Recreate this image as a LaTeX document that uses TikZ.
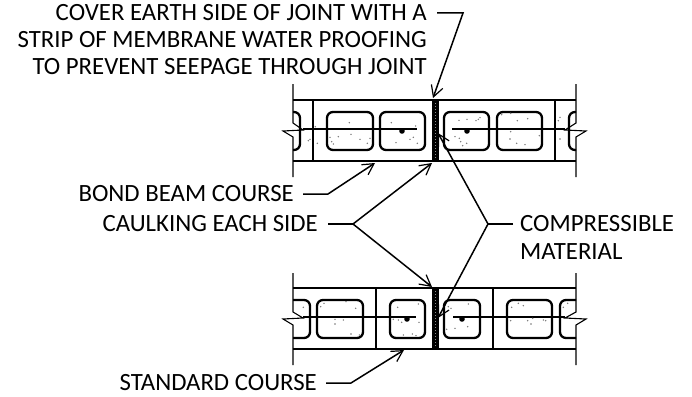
\documentclass[tikz,border=0pt]{standalone}
\usepackage{fontspec}
\setmainfont{Carlito}
\usetikzlibrary{arrows.meta}
\tikzset{
  label/.style={inner sep=0pt,font=\fontsize{24.8}{24.8}\selectfont},
  leader/.style={line width=1.5pt},
  tip/.style={line width=1.5pt,-{Straight Barb[length=11pt,width=12pt,line width=1.2pt]}},
  wall/.style={line width=2.2pt},
  hole/.style={line width=2.3pt,rounded corners=6pt},
  thin/.style={line width=1.1pt},
  speck/.style={fill=black!55,draw=none}
}
\begin{document}
\begin{tikzpicture}[x=1pt,y=-1pt]
\useasboundingbox (0,0) rectangle (692,396);

% text
\node (t0) at (427,13) [label,anchor=east] {COVER EARTH SIDE OF JOINT WITH A};
\node (t1) at (427,40) [label,anchor=east] {STRIP OF MEMBRANE WATER PROOFING};
\node (t2) at (427,67) [label,anchor=east] {TO PREVENT SEEPAGE THROUGH JOINT};
\node (bond) at (294,194) [label,anchor=east] {BOND BEAM COURSE};
\node (caulk) at (318,224) [label,anchor=east] {CAULKING EACH SIDE};
\node (comp) at (520,224) [label,anchor=west] {COMPRESSIBLE};
\node (mat) at (520,252) [label,anchor=west] {MATERIAL};
\node (std) at (317,383) [label,anchor=east] {STANDARD COURSE};

% top wall
\draw[wall] (293,100) -- (576,100);
\draw[wall] (293,161) -- (576,161);
\draw[wall] (313,100) -- (313,161);
\draw[wall] (555,100) -- (555,161);
\draw[line width=2.8pt] (372,100) -- (381,100);
\draw[line width=2.8pt] (489,100) -- (497,100);
\draw[thin] (293,84) -- (293,123) -- (303,130) -- (283,131) -- (293,137) -- (293,177);
\draw[thin] (576,84) -- (576,123) -- (565,130) -- (586,131) -- (576,137) -- (576,177);
\draw[hole] (293,112) -- (300,112) -- (300,150) -- (293,150);
\draw[hole] (576,112) -- (569,112) -- (569,150) -- (576,150);
\foreach \a/\b in {327/373,380/425,444/489,497/542} {
\draw[hole] (\a,112) rectangle (\b,150);
}
\draw[wall] (303,129) -- (417,129);
\draw[wall] (452,129) -- (565,129);
\fill (402,131) circle (2.8);
\fill (467,131) circle (2.8);

% bottom wall
\draw[wall] (293,288) -- (576,288);
\draw[wall] (293,349) -- (576,349);
\draw[wall] (376,288) -- (376,349);
\draw[wall] (493,288) -- (493,349);
\draw[line width=2.8pt] (310,288) -- (317,288);
\draw[line width=2.8pt] (552,288) -- (560,288);
\draw[thin] (293,273) -- (293,312) -- (303,318) -- (283,319) -- (293,325) -- (293,365);
\draw[thin] (576,273) -- (576,312) -- (565,318) -- (586,319) -- (576,325) -- (576,365);
\draw[hole] (293,300) -- (310,300) -- (310,338) -- (293,338);
\draw[hole] (576,300) -- (560,300) -- (560,338) -- (576,338);
\foreach \a/\b in {317/363,390/425,444/480,507/552} {
\draw[hole] (\a,300) rectangle (\b,338);
}
\draw[wall] (303,317) -- (416,317);
\draw[wall] (453,317) -- (565,317);
\fill (407,319) circle (2.8);
\fill (462,319) circle (2.8);

% joints
\foreach \y in {100,288} {
\fill (432,\y) rectangle (438.5,\y+61);
\draw[black!45,line width=1pt,dotted] (435.2,\y+3) -- (435.2,\y+58);
}

% specks
\begin{scope}[shift={(250,80)},x=.3333pt,y=-.3333pt]
\foreach \p/\q in {298/128,424/128,497/138,196/140,240/172,245/185,250/192,265/170,303/163,330/178,352/190,360/175,175/182,180/178,202/190,438/188,480/178,490/172,502/190,627/121,651/118,678/122,685/118,690/113,615/170,628/175,632/185,650/190,638/197,755/104,782/100,802/122,833/116,782/155,780/177,800/190,825/194,868/167,925/122,930/112,930/177} {
\fill[speck] (\p,\q) circle (2.4);
}
\end{scope}
\begin{scope}[shift={(250,250)},x=.3333pt,y=-.3333pt]
\foreach \p/\q in {160/172,222/160,212/170,288/155,317/175,255/208,280/210,255/222,303/252,328/255,443/172,505/162,430/208,445/210,455/217,507/217,460/255,487/252,498/257,595/170,603/175,655/162,590/238,615/235,653/230,785/172,805/160,820/167,782/212,833/212,848/205,843/222,880/210,887/212,940/172,953/160} {
\fill[speck] (\p,\q) circle (2.4);
}
\end{scope}

% leaders
\coordinate (c0) at (437,13);
\coordinate (c1) at (463,13);
\coordinate (e0) at (433,98);
\draw[tip] (c0) -- (c1) -- (e0);

\coordinate (b0) at (303,194);
\coordinate (b1) at (328,194);
\coordinate (e1) at (375,163);
\draw[tip] (b0) -- (b1) -- (e1);

\coordinate (k0) at (328,224);
\coordinate (k1) at (353,224);
\coordinate (e2) at (432,163);
\coordinate (e3) at (432,287);
\draw[leader] (k0) -- (k1);
\draw[tip] (k1) -- (e2);
\draw[tip] (k1) -- (e3);

\coordinate (m0) at (513,224);
\coordinate (m1) at (488,224);
\coordinate (e4) at (438,133);
\coordinate (e5) at (438,318);
\draw[leader] (m0) -- (m1);
\draw[tip] (m1) -- (e4);
\draw[tip] (m1) -- (e5);

\coordinate (s0) at (326,383);
\coordinate (s1) at (351,383);
\coordinate (e6) at (404,350);
\draw[tip] (s0) -- (s1) -- (e6);
\end{tikzpicture}
\end{document}
